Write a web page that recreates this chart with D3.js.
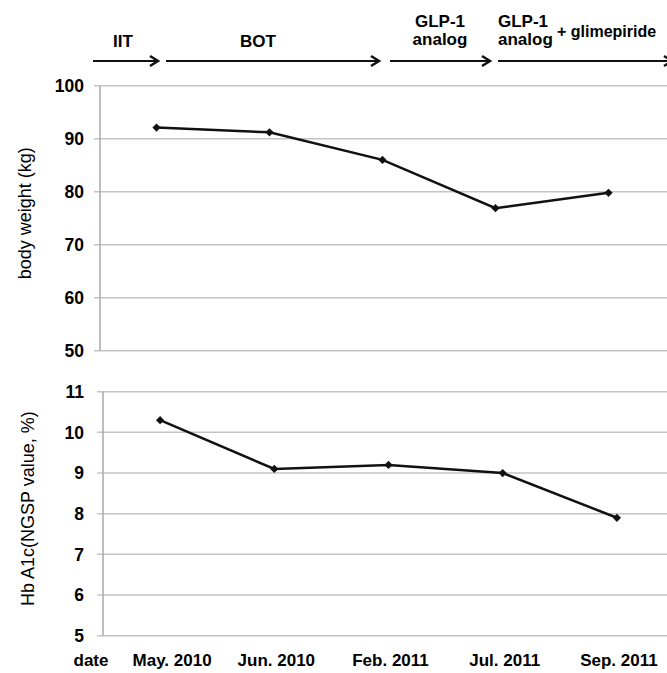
<!DOCTYPE html>
<html>
<head>
<meta charset="utf-8">
<script src="https://cdn.jsdelivr.net/npm/d3@7"></script>
<style>
  body { margin: 0; background: #fff; }
  svg { display: block; font-family: "Liberation Sans", Arial, sans-serif; }
</style>
</head>
<body>
<div id="chart"></div>
<script>
// visit dates (x categories)
const dates = ["May. 2010", "Jun. 2010", "Feb. 2011", "Jul. 2011", "Sep. 2011"];

// body weight in kg
const weight = [92.1, 91.2, 86.0, 76.9, 79.8];
const weightTicks = [50, 60, 70, 80, 90, 100];

// HbA1c (NGSP value, %)
const hba1c = [10.3, 9.1, 9.2, 9.0, 7.9];
const hba1cTicks = [5, 6, 7, 8, 9, 10, 11];

// treatment phases shown as arrows above the chart
const phases = ["IIT", "BOT", "GLP-1 analog", "GLP-1 analog + glimepiride"];

const W = 667, H = 673;

const svg = d3.select('#chart')
    .append('svg')
    .attr('width', W)
    .attr('height', H);

const gridColor = '#c4c4c4';
const axisColor = '#a8a8a8';

function panel(opts) {
    const x = d3.scaleBand()
        .domain(dates)
        .range([opts.left, opts.right]);

    const y = d3.scaleLinear()
        .domain(d3.extent(opts.ticks))
        .range([opts.bottom, opts.top]);

    const g = svg.append('g');

    // gridlines
    g.append('g')
        .selectAll('line')
        .data(opts.ticks)
        .join('line')
        .attr('x1', opts.left - 6)
        .attr('x2', opts.right + 10)
        .attr('y1', d => y(d))
        .attr('y2', d => y(d))
        .attr('stroke', gridColor)
        .attr('stroke-width', 1.5);

    // left axis line
    g.append('line')
        .attr('x1', opts.left).attr('x2', opts.left)
        .attr('y1', y(d3.max(opts.ticks))).attr('y2', y(d3.min(opts.ticks)))
        .attr('stroke', axisColor)
        .attr('stroke-width', 1.5);

    // tick labels
    g.append('g')
        .selectAll('text')
        .data(opts.ticks)
        .join('text')
        .attr('x', 84)
        .attr('y', d => y(d))
        .attr('dy', '0.36em')
        .attr('text-anchor', 'end')
        .style('font', 'bold 17.5px "Liberation Sans", Arial, sans-serif')
        .text(d => d);

    // axis title
    g.append('text')
        .attr('transform', `translate(${opts.titleX},${(opts.top + opts.bottom) / 2 + opts.titleDy}) rotate(-90)`)
        .attr('text-anchor', 'middle')
        .attr('dy', '0.35em')
        .style('font', '18px "Liberation Sans", Arial, sans-serif')
        .text(opts.title);

    const pts = opts.values.map((v, i) => [x(dates[i]) + x.bandwidth() / 2, y(v)]);

    g.append('path')
        .attr('d', d3.line()(pts))
        .attr('fill', 'none')
        .attr('stroke', '#111')
        .attr('stroke-width', 2.5);

    // diamond markers
    g.append('g')
        .selectAll('path')
        .data(pts)
        .join('path')
        .attr('transform', d => `translate(${d[0]},${d[1]}) rotate(45)`)
        .attr('d', d3.symbol(d3.symbolSquare, 34))
        .attr('fill', '#111');

    return x;
}

panel({
    values: weight, ticks: weightTicks,
    left: 100, right: 665, top: 85.7, bottom: 350.7,
    title: 'body weight (kg)', titleX: 25, titleDy: -5
});

const xb = panel({
    values: hba1c, ticks: hba1cTicks,
    left: 103, right: 674, top: 391.7, bottom: 635.7,
    title: 'Hb A1c(NGSP value, %)', titleX: 28, titleDy: -5
});

// date labels
const boldFont = 'bold 17px "Liberation Sans", Arial, sans-serif';
svg.append('text')
    .attr('x', 91).attr('y', 666)
    .attr('text-anchor', 'middle')
    .style('font', boldFont)
    .text('date');

svg.append('g')
    .selectAll('text')
    .data(dates)
    .join('text')
    .attr('x', d => xb(d) + xb.bandwidth() / 2 + (d === dates[0] ? 12 : 2))
    .attr('y', 666)
    .attr('text-anchor', 'middle')
    .style('font', boldFont)
    .text(d => d);

// phase arrows
const arrowY = 61;
const arrowSpans = [[93, 158], [166, 379], [390, 490], [498, 672]];

const arrows = svg.append('g')
    .attr('stroke', '#111')
    .attr('stroke-width', 2.2)
    .attr('fill', 'none');

arrowSpans.forEach(([a, b]) => {
    arrows.append('line')
        .attr('x1', a).attr('x2', b)
        .attr('y1', arrowY).attr('y2', arrowY);
    arrows.append('path')
        .attr('d', `M${b - 8},${arrowY - 5}L${b},${arrowY}L${b - 8},${arrowY + 5}`)
        .attr('stroke-width', 2.5);
});

const labels = svg.append('g').style('font', boldFont);

labels.append('text').attr('x', 123).attr('y', 47).attr('text-anchor', 'middle').text(phases[0]);
labels.append('text').attr('x', 258).attr('y', 47).attr('text-anchor', 'middle').text(phases[1]);

const p3 = phases[2].split(' ');
labels.append('text').attr('x', 440).attr('y', 27).attr('text-anchor', 'middle').text(p3[0]);
labels.append('text').attr('x', 440).attr('y', 45).attr('text-anchor', 'middle').text(p3[1]);

const p4 = phases[3].split(' ');
labels.append('text').attr('x', 498).attr('y', 27).text(p4[0]);
labels.append('text').attr('x', 498).attr('y', 45).text(p4[1]);
labels.append('text').attr('x', 557).attr('y', 37)
    .style('font-size', '16px')
    .text(p4[2] + ' ' + p4[3]);
</script>
</body>
</html>
